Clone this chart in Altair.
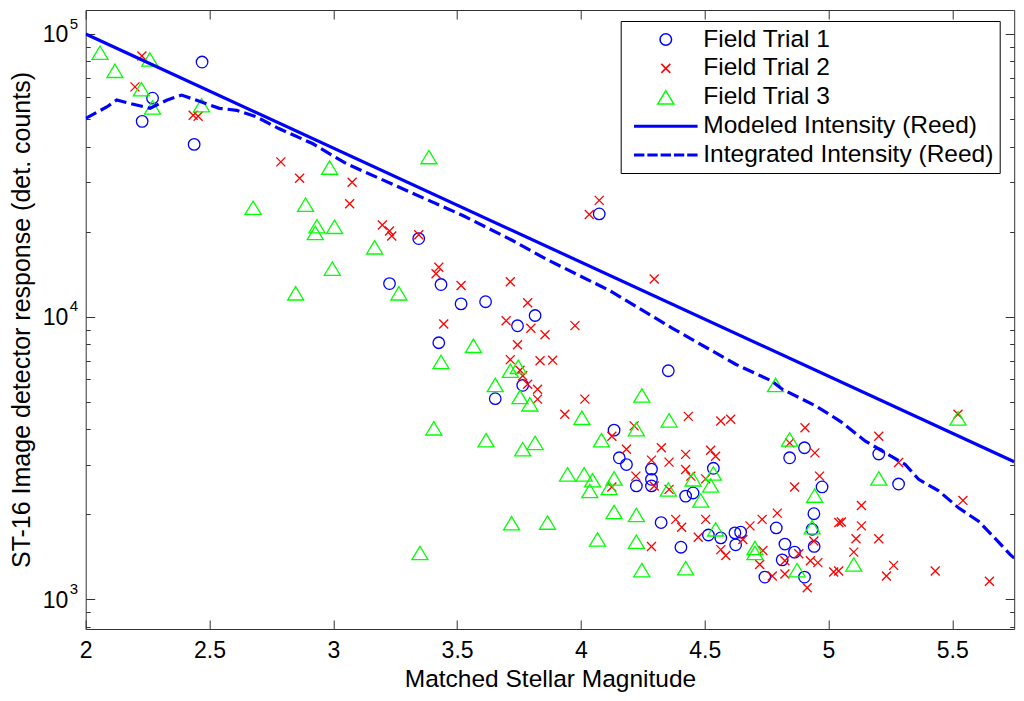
import altair as alt
import pandas as pd

FONT = "Liberation Sans"

# ---------------- data ----------------
t1_mag = [2.47, 2.27, 2.228, 2.438, 3.227, 3.345, 3.435, 3.516, 3.615, 3.744, 3.815, 3.426,
          3.765, 3.654, 4.074, 4.353, 4.134, 4.155, 4.184, 4.285, 4.285, 4.285, 4.224, 4.535,
          4.423, 4.453, 4.324, 4.404, 4.515, 4.565, 4.622, 4.645, 4.625, 4.743, 4.789, 4.824,
          4.863, 4.813, 4.903, 4.941, 4.934, 4.942, 4.974, 4.843, 4.903, 5.203, 5.283]
t1_counts = [79600, 59300, 49100, 40700, 13100, 18900, 13000, 11100, 11300, 9290, 10100, 8090,
             5720, 5130, 23100, 6440, 3970, 3170, 3000, 2890, 2660, 2520, 2520, 2910,
             2320, 2380, 1870, 1530, 1690, 1650, 1720, 1730, 1560, 1200, 1790, 1570,
             1470, 1380, 1200, 2010, 1770, 1540, 2500, 3170, 3440, 3270, 2560]

t2_mag = [2.227, 2.199, 2.434, 2.454, 2.788, 2.864, 3.076, 3.066, 3.198, 3.227, 3.236, 3.345,
          4.074, 4.034, 3.426, 3.415, 3.516, 3.715, 3.785, 3.698, 3.798, 3.855, 3.976, 3.446,
          3.744, 3.715, 3.835, 3.886, 3.754, 3.765, 3.785, 3.825, 3.825, 4.016, 3.935, 4.434,
          4.565, 4.605, 4.215, 4.125, 4.184, 4.325, 4.423, 4.524, 4.544, 4.285, 4.356, 4.423,
          4.444, 4.504, 4.222, 4.296, 4.125, 4.356, 4.383, 4.407, 4.504, 4.474, 4.285, 4.683,
          4.732, 4.793, 4.654, 4.565, 4.585, 4.735, 4.722, 4.773, 4.824, 4.824, 4.880, 4.914,
          4.927, 4.957, 4.941, 4.843, 4.905, 4.945, 4.964, 4.863, 5.042, 5.052, 5.133, 5.133,
          5.111, 5.203, 5.102, 5.021, 5.041, 5.263, 5.234, 5.431, 5.650, 5.203, 5.283, 5.523,
          5.543, 4.296]
t2_counts = [83600, 65000, 51600, 51200, 35300, 30900, 29900, 25100, 21100, 20100, 19300, 19500,
             25800, 23000, 14960, 14200, 12900, 13300, 11200, 9680, 9100, 8640, 9300, 9420,
             7960, 7050, 6990, 7020, 6470, 6180, 5770, 5540, 5110, 5110, 4520, 4440,
             4280, 4340, 4110, 3780, 3400, 3440, 3260, 3370, 3210, 3110, 3060, 2880,
             2730, 2670, 2730, 2520, 2500, 2450, 1920, 1800, 1920, 1660, 1540, 1820,
             1920, 2020, 1630, 1500, 1430, 1490, 1330, 1210, 1370, 1230, 1450, 1100,
             1370, 1350, 1610, 3580, 4050, 3300, 2730, 2500, 1870, 1880, 2150, 1820,
             1640, 1640, 1470, 1250, 1260, 1320, 1210, 1260, 1160, 3780, 3050, 4520,
             2240, 13600]

t3_mag = [2.058, 2.118, 2.259, 2.225, 2.270, 2.468, 2.985, 2.676, 2.888, 2.934, 2.927, 3.005,
          3.167, 2.996, 2.848, 3.265, 3.386, 3.566, 3.435, 3.715, 3.747, 3.654, 3.754, 3.794,
          4.004, 3.406, 3.617, 3.765, 3.815, 4.083, 4.246, 4.356, 4.224, 3.946, 4.013, 4.047,
          4.134, 4.036, 4.114, 4.353, 4.453, 4.524, 4.484, 4.535, 4.134, 4.224, 3.865, 4.067,
          4.224, 4.246, 4.423, 4.544, 4.703, 4.703, 4.786, 3.350, 3.720, 4.843, 4.944, 4.934,
          4.873, 5.203, 5.102, 5.523]
t3_counts = [85900, 74100, 81300, 63800, 55000, 56000, 33700, 24300, 24900, 20900, 19800, 20800,
             17600, 14800, 12100, 12100, 36700, 7890, 6920, 6440, 6650, 5740, 5200, 4900,
             4390, 4030, 3660, 3400, 3580, 3660, 5270, 4300, 4000, 2770, 2770, 2640,
             2680, 2420, 2480, 2450, 2660, 2530, 2240, 2790, 2040, 1990, 1870, 1630,
             1600, 1270, 1290, 1770, 1520, 1460, 5740, 1460, 1860, 3680, 2330, 1800,
             1270, 2680, 1330, 4370]

model_mag = [2.0, 5.75]
model_counts = [100000, 3070]

integ_mag = [2.0, 2.085, 2.125, 2.18, 2.26, 2.327, 2.387, 2.448, 2.54, 2.61, 2.69, 2.78,
             2.918, 3.052, 3.31, 3.523, 3.724, 3.859, 4.114, 4.37, 4.625, 4.77, 4.813, 4.948,
             5.015, 5.055, 5.149, 5.23, 5.31, 5.364, 5.445, 5.525, 5.606, 5.66, 5.734, 5.75]
integ_counts = [50300, 55200, 58400, 56800, 54600, 58300, 60800, 58300, 54600, 53700, 50900, 46300,
                40900, 34800, 27600, 22800, 18600, 16000, 12400, 9100, 6790, 5930, 5540, 4840,
                4450, 4220, 3630, 3300, 3000, 2660, 2420, 2110, 1890, 1690, 1440, 1400]

series_names = ["Field Trial 1", "Field Trial 2", "Field Trial 3",
                "Modeled Intensity (Reed)", "Integrated Intensity (Reed)"]
series_colors = ["#0000ff", "#ff0000", "#00ff00", "#0000ff", "#0000ff"]

x_ticks = [2, 2.5, 3, 3.5, 4, 4.5, 5, 5.5]
y_ticks = [800, 900, 1000, 2000, 3000, 4000, 5000, 6000, 7000, 8000, 9000,
           10000, 20000, 30000, 40000, 50000, 60000, 70000, 80000, 90000, 100000]
y_label_vals = [1000, 10000, 100000]
y_label_base = ["10", "10", "10"]
y_label_exp = ["3", "4", "5"]

# ---------------- symbols ----------------
X_PATH = "M-0.78,-0.78L0.78,0.78M-0.78,0.78L0.78,-0.78"
TRI_PATH = "M0,-1.16L1.39,1.16L-1.39,1.16Z"
SOLID_PATH = "M-5.38,-0.13H5.38V0.13H-5.38Z"
DASH_PATH = ("M-5.38,-0.13H-3.84V0.13H-5.38Z M-3.07,-0.13H-1.54V0.13H-3.07Z "
             "M-0.77,-0.13H0.77V0.13H-0.77Z M1.54,-0.13H3.07V0.13H1.54Z "
             "M3.84,-0.13H5.38V0.13H3.84Z")
series_shapes = ["circle", X_PATH, TRI_PATH, SOLID_PATH, DASH_PATH]

pts = pd.DataFrame({
    "mag": t1_mag + t2_mag + t3_mag,
    "counts": t1_counts + t2_counts + t3_counts,
    "series": [series_names[0]] * len(t1_mag) + [series_names[1]] * len(t2_mag)
              + [series_names[2]] * len(t3_mag),
})
model_df = pd.DataFrame({"mag": model_mag, "counts": model_counts})
integ_df = pd.DataFrame({"mag": integ_mag, "counts": integ_counts})
ylab_df = pd.DataFrame({"val": y_label_vals, "base": y_label_base, "exp": y_label_exp})

W, H = 928.5, 619

xscale = alt.Scale(domain=[2, 5.75], nice=False, zero=False)
yscale = alt.Scale(type="log", domain=[786, 121600], nice=False)

xaxis = alt.Axis(
    values=x_ticks, format=".1~f", labelFontSize=23, labelFont=FONT, labelColor="black",
    labelPadding=10.8, labelFlush=False, labelOverlap=False, labelBound=False,
    ticks=False, tickSize=0, domain=False,
    grid=True, gridColor="#333333", gridOpacity=1, gridWidth=1,
    gridDash=[9, H - 18, 9, 3000],
    title="Matched Stellar Magnitude", titleFontSize=24.5, titleFont=FONT,
    titleFontWeight="normal", titleColor="black", titlePadding=5,
)
yaxis = alt.Axis(
    values=y_ticks, labels=False, ticks=False, tickSize=0, domain=False,
    grid=True, gridColor="#333333", gridOpacity=1, gridWidth=1,
    gridDash={"condition": {"test": "datum.value == 1000 || datum.value == 10000 || datum.value == 100000",
                            "value": [9, W - 18, 9, 3000]},
              "value": [4.5, W - 9, 4.5, 3000]},
    title="ST-16 Image detector response (det. counts)", titleFontSize=25, titleFont=FONT,
    titleFontWeight="normal", titleColor="black", titlePadding=51,
)

leg = alt.Legend(
    title=None, orient="none", legendX=535, legendY=11, padding=6.25,
    symbolOffset=26.6, labelOffset=25.25, rowPadding=3.9,
    labelFontSize=24.5, labelFont=FONT, labelColor="black", labelLimit=500,
    symbolSize=133, symbolStrokeWidth=1.5,
    strokeColor="black", fillColor="white",
)

X = alt.X("mag:Q", scale=xscale, axis=xaxis)
Y = alt.Y("counts:Q", scale=yscale, axis=yaxis)

points = alt.Chart(pts).mark_point(filled=False, size=133, strokeWidth=1.3, opacity=1).encode(
    x=X, y=Y,
    color=alt.Color("series:N", scale=alt.Scale(domain=series_names, range=series_colors), legend=leg),
    shape=alt.Shape("series:N", scale=alt.Scale(domain=series_names, range=series_shapes), legend=leg),
)

solid = alt.Chart(model_df).mark_line(color="#0000ff", strokeWidth=3.2, clip=True).encode(x=X, y=Y)

dashed = alt.Chart(integ_df).mark_line(color="#0000ff", strokeWidth=3.2, strokeDash=[12, 5],
                                       clip=True).encode(x=X, y=Y)

ybase = alt.Chart(ylab_df).mark_text(align="right", baseline="alphabetic", dx=-17.4, dy=8.3,
                                     fontSize=23, font=FONT, color="black").encode(
    x=alt.value(0),
    y=alt.Y("val:Q", scale=yscale, axis=yaxis),
    text="base:N",
)
yexp = alt.Chart(ylab_df).mark_text(align="left", baseline="alphabetic", dx=-16, dy=-5.3,
                                    fontSize=15, font=FONT, color="black").encode(
    x=alt.value(0),
    y=alt.Y("val:Q", scale=yscale, axis=yaxis),
    text="exp:N",
)

chart = alt.layer(points, solid, dashed, ybase, yexp).properties(
    width=W, height=H,
    autosize=alt.AutoSizeParams(type="none"),
    padding={"left": 77.7, "top": 2, "right": 1.8, "bottom": 64},
    background="white",
).configure_view(stroke="#333333", strokeWidth=1)

chart.save("out.html", embed_options={"renderer": "svg", "actions": False})
